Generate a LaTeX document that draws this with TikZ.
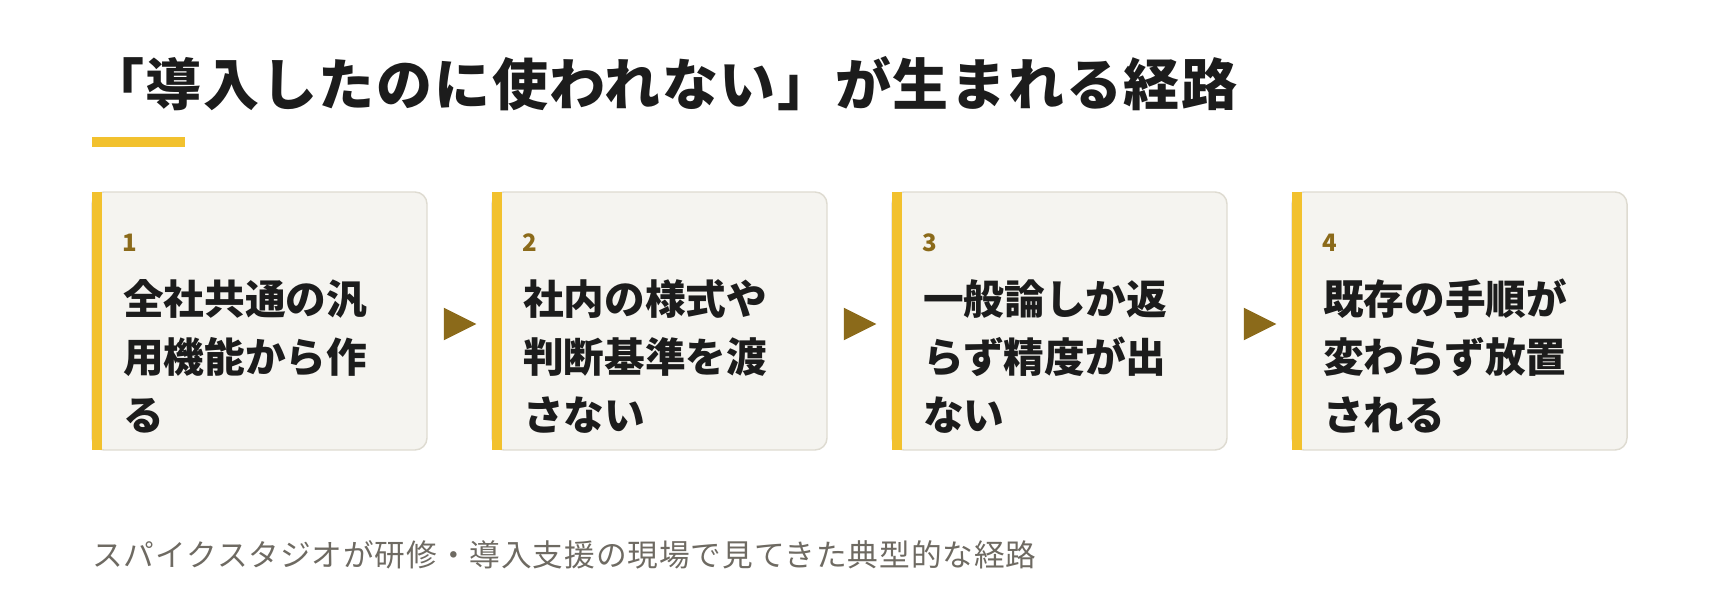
\documentclass[tikz,border=0pt]{standalone}
\usepackage{fontspec}
\setmainfont{Noto Sans CJK JP}
\newfontfamily\titlefont[LetterSpace=3]{Noto Sans CJK JP}
\newfontfamily\notefont[LetterSpace=3]{Noto Sans CJK JP}
\usepackage{tikz}
\usetikzlibrary{positioning,shapes.geometric,calc}
\definecolor{accentY}{HTML}{F2C12E}
\definecolor{accentG}{HTML}{8B6A1A}
\definecolor{boxfill}{HTML}{F5F4F0}
\definecolor{boxline}{HTML}{DEDBD1}
\definecolor{inktext}{HTML}{1C1C1C}
\definecolor{notegray}{HTML}{6E6A62}

\begin{document}
\begin{tikzpicture}[x=0.75pt,y=-0.75pt,node distance=48.75pt]
    % one px of the picture is 0.75pt, y runs downwards
    \tikzstyle{stepbox}=[rectangle,draw=boxline,line width=1.1pt,fill=boxfill,
    rounded corners=9pt,minimum width=251.25pt,minimum height=193.5pt,
    inner sep=0pt,outer sep=0pt]
    \tikzstyle{stepbar}=[fill=accentY]
    \tikzstyle{stepnum}=[anchor=base west,inner sep=0pt,text=accentG,
    font=\fontsize{18}{18}\selectfont\bfseries]
    % base of a three-line node is the baseline of its last line
    \tikzstyle{steptext}=[anchor=base west,inner sep=0pt,align=left,text=inktext,
    font=\fontsize{30.5}{43.5}\selectfont\bfseries]
    \tikzstyle{steparrow}=[isosceles triangle,isosceles triangle stretches,fill=accentG,
    minimum width=24.5pt,minimum height=24.5pt,inner sep=0pt,anchor=west]

    \useasboundingbox (0,0) rectangle (1720,602);

    % title
    \node [anchor=base west,inner sep=0pt,text=inktext,
      font=\titlefont\fontsize{42}{42}\selectfont\bfseries] (title) at (88,106)
      {「導入したのに使われない」が生まれる経路};
    \fill [stepbar] (92,137) rectangle (185,147);

    % steps
    \node [stepbox] (b1) at (259.5,321) {};
    \node [stepbox] (b2) [right=of b1] {};
    \node [stepbox] (b3) [right=of b2] {};
    \node [stepbox] (b4) [right=of b3] {};

    \fill [stepbar] (b1.north west) rectangle ([xshift=7.5pt]b1.south west);
    \fill [stepbar] (b2.north west) rectangle ([xshift=7.5pt]b2.south west);
    \fill [stepbar] (b3.north west) rectangle ([xshift=7.5pt]b3.south west);
    \fill [stepbar] (b4.north west) rectangle ([xshift=7.5pt]b4.south west);

    \node [stepnum] (n1) at ([shift={(30,60)}]b1.north west) {1};
    \node [stepnum] (n2) at ([shift={(30,60)}]b2.north west) {2};
    \node [stepnum] (n3) at ([shift={(30,60)}]b3.north west) {3};
    \node [stepnum] (n4) at ([shift={(30,60)}]b4.north west) {4};

    \node [steptext] (t1) at ([shift={(31,238)}]b1.north west) {全社共通の汎\\用機能から作\\る};
    \node [steptext] (t2) at ([shift={(31,238)}]b2.north west) {社内の様式や\\判断基準を渡\\さない};
    \node [steptext] (t3) at ([shift={(31,238)}]b3.north west) {一般論しか返\\らず精度が出\\ない};
    \node [steptext] (t4) at ([shift={(31,238)}]b4.north west) {既存の手順が\\変わらず放置\\される};

    \node [steparrow] (a1) at ($(b1.east)!0.5!(b2.west)+(-16,3)$) {};
    \node [steparrow] (a2) at ($(b2.east)!0.5!(b3.west)+(-16,3)$) {};
    \node [steparrow] (a3) at ($(b3.east)!0.5!(b4.west)+(-16,3)$) {};

    % source note
    \node [anchor=base west,inner sep=0pt,text=notegray,
      font=\notefont\fontsize{23}{23}\selectfont] (note) at (92,566)
      {スパイクスタジオが研修・導入支援の現場で見てきた典型的な経路};
\end{tikzpicture}
\end{document}
